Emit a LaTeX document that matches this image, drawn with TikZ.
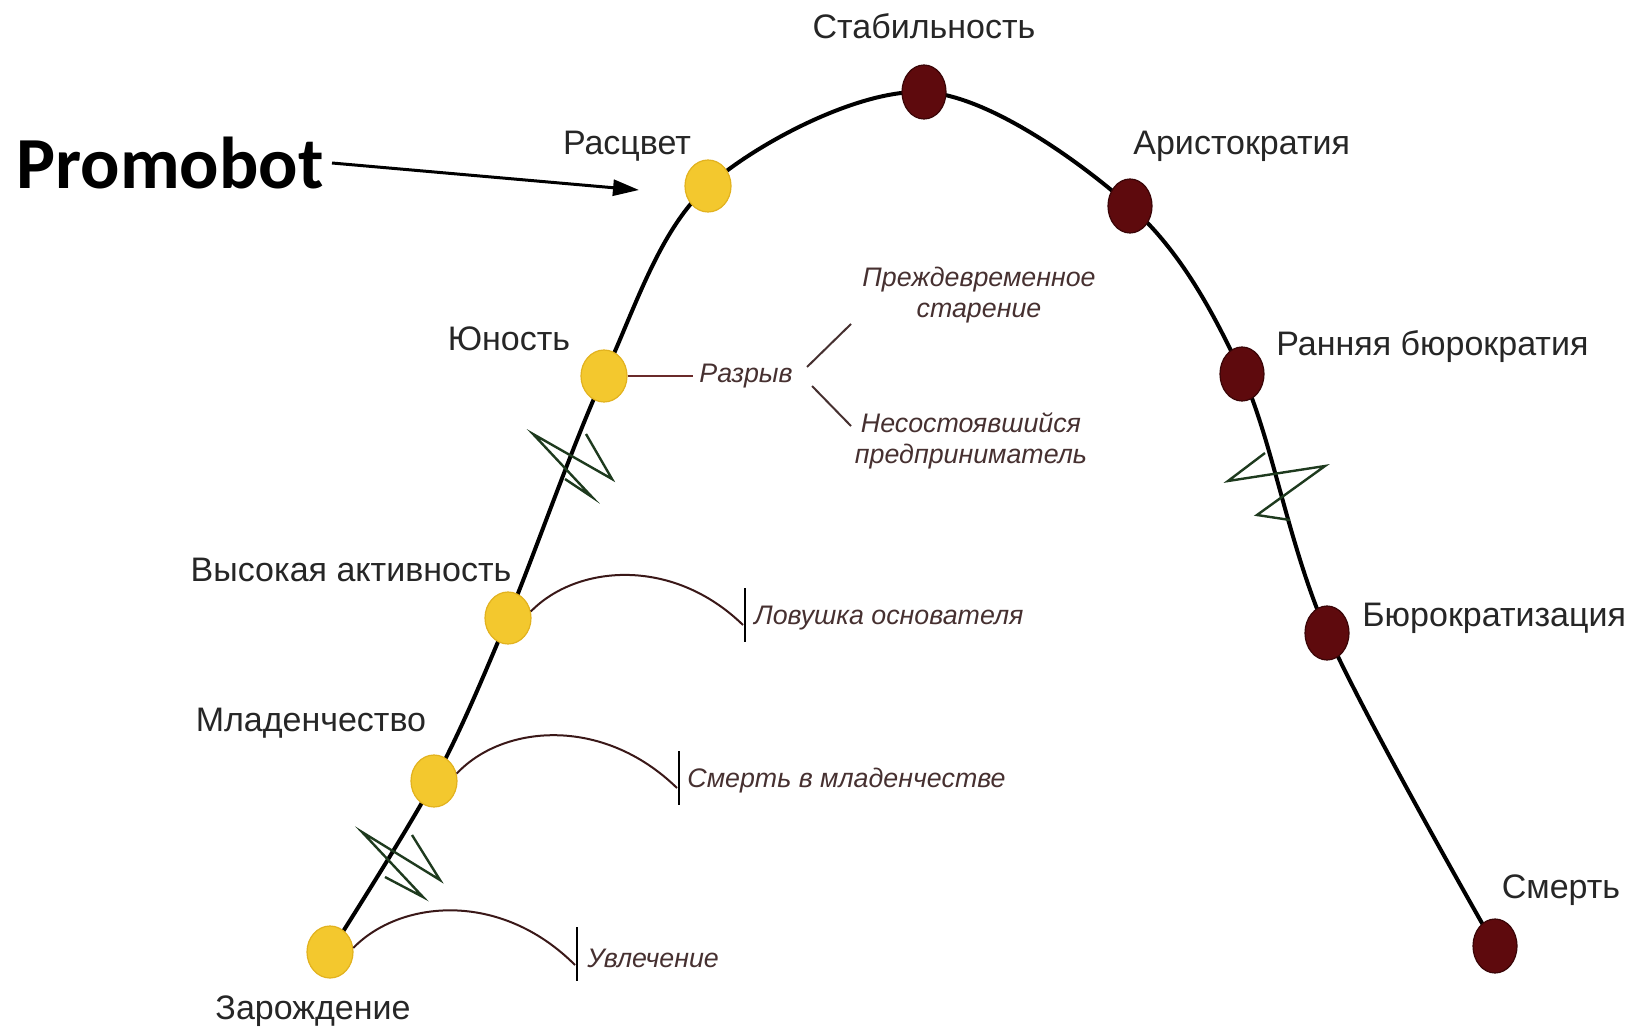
\documentclass[tikz,border=0pt]{standalone}
\usepackage{fontspec}
\setmainfont{Liberation Sans}
\newfontfamily\promofont{Carlito}
\usetikzlibrary{arrows.meta,shapes.geometric}
\definecolor{yel}{HTML}{F3C82E}
\definecolor{yeledge}{HTML}{E2B21E}
\definecolor{dred}{HTML}{5E0A0D}
\definecolor{dredge}{HTML}{3A0507}
\definecolor{zig}{HTML}{1E3A1E}
\definecolor{note}{HTML}{463030}
\definecolor{gap}{HTML}{6A2A2A}
\definecolor{arcc}{HTML}{3A1818}
\tikzset{
  ydot/.style={ellipse,fill=yel,draw=yeledge,line width=0.6pt,minimum width=23pt,minimum height=26pt,inner sep=0pt},
  rdot/.style={ellipse,fill=dred,draw=dredge,line width=0.6pt,minimum width=22pt,minimum height=27pt,inner sep=0pt},
  lbl/.style={inner sep=0pt,font=\fontsize{17}{19}\selectfont,text=black!85},
  nlbl/.style={inner sep=0pt,font=\fontsize{13.4}{15}\selectfont\itshape,text=note},
  curve/.style={line width=2pt,black},
  zz/.style={line width=1.2pt,zig,line join=miter},
  sidearc/.style={line width=1pt,arcc},
  bar/.style={line width=1.3pt,black},
  gapline/.style={line width=1pt,gap}
}
\begin{document}
\begin{tikzpicture}[x=0.5pt,y=-0.5pt]
\useasboundingbox (0,0) rectangle (1637,1027);
% stage centres
\coordinate (c1) at (330,952);
\coordinate (c2) at (434,781);
\coordinate (c3) at (508,618);
\coordinate (c4) at (604,376);
\coordinate (c5) at (708,186);
\coordinate (c6) at (924,92);
\coordinate (c7) at (1130,206);
\coordinate (c8) at (1242,374);
\coordinate (c9) at (1327,633);
\coordinate (c10) at (1495,946);
% main curve
\draw[curve] plot[smooth,tension=0.55] coordinates {(c1) (c2) (c3) (c4) (c5) (c6) (c7) (c8) (c9) (c10)};
% zigzag breaks
\draw[zz] (412,835) -- (440,880) -- (362,832) -- (423,897) -- (385,877);
\draw[zz] (586,434) -- (612,479) -- (533,434) -- (592,497) -- (565,479);
\draw[zz] (1265,453) -- (1228,481) -- (1325,466) -- (1257,515) -- (1290,520);
% stage dots
\node[ydot] (n1) at (c1) {};
\node[ydot] (n2) at (c2) {};
\node[ydot] (n3) at (c3) {};
\node[ydot] (n4) at (c4) {};
\node[ydot] (n5) at (c5) {};
\node[rdot] (n6) at (c6) {};
\node[rdot] (n7) at (c7) {};
\node[rdot] (n8) at (c8) {};
\node[rdot] (n9) at (c9) {};
\node[rdot] (n10) at (c10) {};
% stage labels
\node[lbl] (l6) at (924,26) {Стабильность};
\node[lbl] (l5) at (627,146) {Расцвет};
\node[lbl,anchor=west] (l7) at (1133,146) {Аристократия};
\node[lbl] (l4) at (509,339) {Юность};
\node[lbl,anchor=west] (l8) at (1276,347) {Ранняя бюрократия};
\node[lbl] (l3) at (351,570) {Высокая активность};
\node[lbl,anchor=west] (l9) at (1362,618) {Бюрократизация};
\node[lbl] (l2) at (311,723) {Младенчество};
\node[lbl] (l10) at (1561,890) {Смерть};
\node[lbl] (l1) at (313,1011) {Зарождение};
% Razryv branch
\node[nlbl] (rz) at (746,376) {Разрыв};
\draw[gapline] (n4.east) -- ([xshift=-3pt]rz.west);
\coordinate (b1a) at (807,367);
\coordinate (b1b) at (851,324);
\coordinate (b2a) at (812,386);
\coordinate (b2b) at (851,426);
\draw[line width=1pt,note] (b1a) -- (b1b);
\draw[line width=1pt,note] (b2a) -- (b2b);
\node[nlbl] (pr1) at (979,280) {Преждевременное};
\node[nlbl] (pr2) at (979,313) {старение};
\node[nlbl] (ne1) at (971,423) {Несостоявшийся};
\node[nlbl] (ne2) at (971,457) {предприниматель};
% traps
\node[nlbl,anchor=west] (t3) at (754,618) {Ловушка основателя};
\coordinate (t3a) at (745,588);
\coordinate (t3b) at (745,642);
\draw[bar] (t3a) -- (t3b);
\coordinate (t3e) at (743,625);
\draw[sidearc] (n3.16) .. controls (576,565) and (672,556) .. (t3e);
\node[nlbl,anchor=west] (t2) at (687,781) {Смерть в младенчестве};
\coordinate (t2a) at (679,751);
\coordinate (t2b) at (679,805);
\draw[bar] (t2a) -- (t2b);
\coordinate (t2e) at (677,788);
\draw[sidearc] (n2.18) .. controls (502,725) and (602,715) .. (t2e);
\node[nlbl,anchor=west] (t1) at (587,958) {Увлечение};
\coordinate (t1a) at (577,927);
\coordinate (t1b) at (577,981);
\draw[bar] (t1a) -- (t1b);
\coordinate (t1e) at (575,965);
\draw[sidearc] (n1.10) .. controls (400,900) and (500,890) .. (t1e);
% Promobot
\node[inner sep=0pt,font=\promofont\bfseries\fontsize{36.7}{40}\selectfont] (pb) at (170,163) {Promobot};
\coordinate (pbt) at (639,190);
\draw[line width=1.5pt,-{Triangle[length=13pt,width=8pt]}] ([xshift=4pt]pb.east) -- (pbt);
\end{tikzpicture}
\end{document}
